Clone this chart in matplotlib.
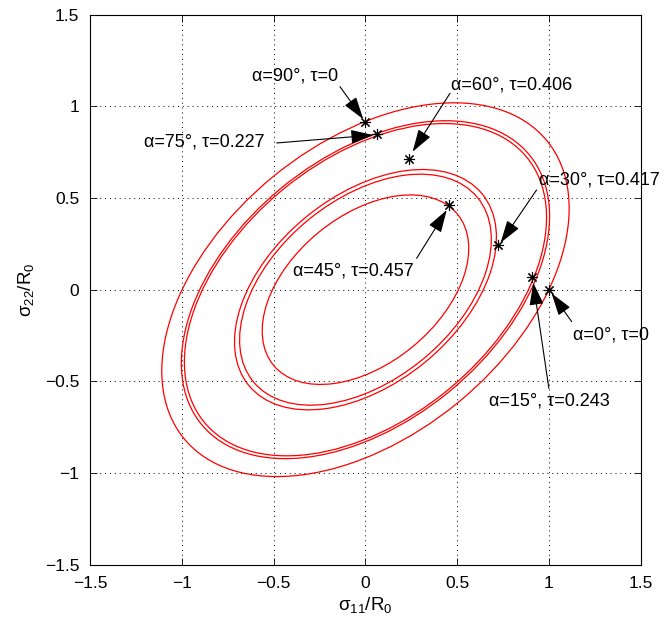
import matplotlib
matplotlib.use('Agg')
import matplotlib.pyplot as plt
from matplotlib.patches import Ellipse

plt.rcParams['font.family'] = ['Liberation Sans', 'DejaVu Sans']
plt.rcParams['mathtext.fontset'] = 'custom'
plt.rcParams['mathtext.rm'] = 'Liberation Sans'
plt.rcParams['mathtext.it'] = 'Liberation Sans'
plt.rcParams['mathtext.sf'] = 'Liberation Sans'

# ---- yield curves (one ellipse per shear level tau) ----
curve_tau = [0.0, 0.227, 0.243, 0.406, 0.417, 0.457]
curve_scale = [1.0, 0.904, 0.889, 0.643, 0.618, 0.507]
base_semi_major = 1.280
base_semi_minor = 0.796
base_tilt_deg = 39.4

# ---- uniaxial test points ----
alpha_deg = [0, 15, 30, 45, 60, 75, 90]
point_tau = [0, 0.243, 0.417, 0.457, 0.406, 0.227, 0]
point_s11 = [1.0, 0.906, 0.721, 0.457, 0.237, 0.061, 0.0]
point_s22 = [0.0, 0.071, 0.244, 0.462, 0.711, 0.849, 0.916]

# ---- annotation label centres, arrow tails and arrow tips ----
label_x = [1.339, 1.004, 1.273, -0.068, 0.799, -0.878, -0.386]
label_y = [-0.247, -0.605, 0.598, 0.102, 1.116, 0.805, 1.165]
tail_x = [1.124, 1.0, 0.933, 0.279, 0.461, -0.484, -0.139]
tail_y = [-0.174, -0.538, 0.544, 0.171, 1.071, 0.80, 1.107]
tip_x = [1.015, 0.915, 0.737, 0.443, 0.257, 0.043, -0.012]
tip_y = [-0.02, 0.038, 0.256, 0.434, 0.752, 0.843, 0.93]

ticks = [-1.5, -1, -0.5, 0, 0.5, 1, 1.5]
tick_labels = ['\u22121.5', '\u22121', '\u22120.5', '0', '0.5', '1', '1.5']

fig = plt.figure(figsize=(6.64, 6.26), dpi=100)
ax = fig.add_axes([0.1361, 0.0978, 0.8286, 0.8789])

for tau, s in zip(curve_tau, curve_scale):
    ax.add_patch(Ellipse((0, 0), width=2 * base_semi_major * s,
                         height=2 * base_semi_minor * s, angle=base_tilt_deg,
                         fill=False, edgecolor='#ff0000', lw=0.9, zorder=2))

ax.plot(point_s11, point_s22, linestyle='none', marker=(8, 2, 0),
        markersize=8, markeredgecolor='k', markeredgewidth=0.8, zorder=4)

for a, t, lx, ly, tx0, ty0, tx1, ty1 in zip(alpha_deg, point_tau, label_x, label_y,
                                             tail_x, tail_y, tip_x, tip_y):
    tstr = '0' if t == 0 else f'{t:.3f}'
    ax.annotate('', xy=(tx1, ty1), xytext=(tx0, ty0),
                arrowprops=dict(arrowstyle='-|>,head_length=0.7,head_width=0.22',
                                mutation_scale=20, lw=0.8, color='k',
                                shrinkA=0, shrinkB=0), zorder=5)
    ax.text(lx, ly, f'\u03b1={a}\u00b0, \u03c4={tstr}', ha='center', va='center',
            fontsize=13, zorder=6)

ax.set_xlim(-1.5, 1.5)
ax.set_ylim(-1.5, 1.5)
ax.set_xticks(ticks)
ax.set_xticklabels(tick_labels)
ax.set_yticks(ticks)
ax.set_yticklabels(tick_labels)
ax.tick_params(direction='in', top=True, right=True, length=5, width=0.6,
               labelsize=12.5, pad=8)
ax.grid(True, color='k', linestyle=(0, (1, 4)), lw=0.7)
for sp in ax.spines.values():
    sp.set_linewidth(0.8)

ax.set_xlabel(r'$\mathrm{\sigma_{11}/R_0}$', fontsize=13.5, labelpad=3)
ax.set_ylabel(r'$\mathrm{\sigma_{22}/R_0}$', fontsize=13.5, labelpad=6)

fig.savefig('out.png', dpi=100)
